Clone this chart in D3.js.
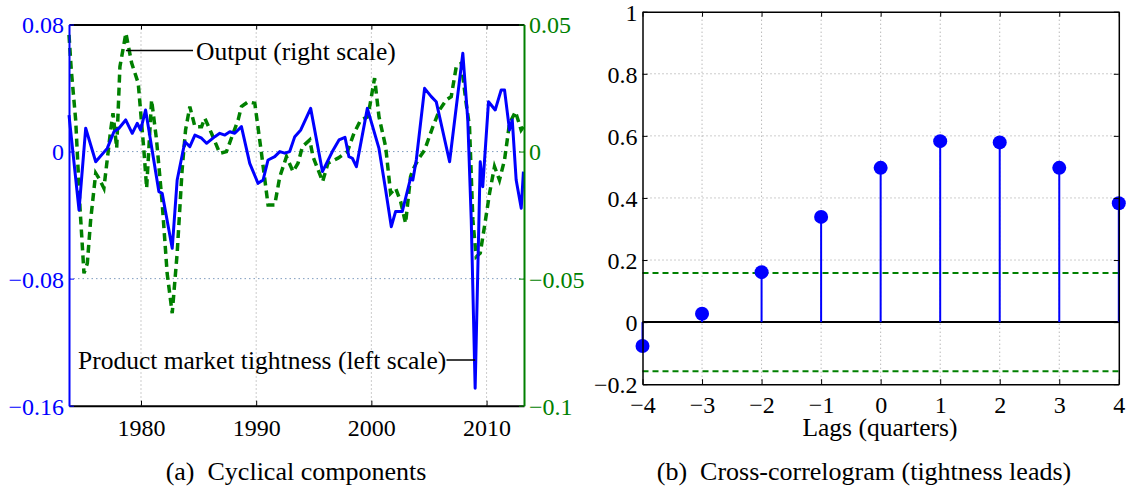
<!DOCTYPE html>
<html>
<head>
<meta charset="utf-8">
<script src="https://cdn.jsdelivr.net/npm/d3@7"></script>
<style>
body { margin: 0; background: #fff; }
svg { display: block; font-family: "Liberation Serif", "Times New Roman", serif; }
</style>
</head>
<body>
<svg class="chart"></svg>
<script>
// left panel: cyclical components
var tightYears = [1973.75,1974.62,1975.2,1976.07,1977.07,1977.65,1978.09,1978.67,1979.24,1979.67,1979.97,1980.4,
  1981.55,1981.84,1982.71,1983.14,1983.81,1984.24,1984.68,1985.26,1985.69,1986.41,1986.84,1987.28,1987.71,1988.14,
  1988.72,1989.44,1990.16,1990.6,1991.03,1991.61,1992.05,1992.48,1992.91,1993.35,1993.87,1994.73,1995.75,1996.61,
  1997.19,1997.71,1998.05,1998.35,1998.7,1999.65,2000.66,2001.24,2001.73,2002.1,2002.68,2003.4,2003.6,2003.9,
  2004.62,2005.2,2005.63,2006.79,2007.94,2008.37,2008.67,2009.01,2009.45,2009.67,2010.17,2010.75,2011.27,2011.56,
  2011.99,2012.23,2012.57,2013.01,2013.2];
var tightValues = [0.023,-0.0368,0.0147,-0.0064,0.002,0.0125,0.0147,0.0199,0.0115,0.0178,0.0136,0.0262,
  -0.0252,-0.0263,-0.0609,-0.0179,0.0062,0.0031,0.0104,0.0084,0.0052,0.0094,0.0115,0.0104,0.0125,0.0115,
  0.0157,-0.0074,-0.02,-0.0179,-0.0053,-0.0032,0,-0.001,0,0.0094,0.0136,0.0272,-0.0126,0,
  0.0073,0.009,-0.0032,-0.0042,-0.0095,0.0272,0.002,-0.0242,-0.0473,-0.0378,-0.0378,-0.0168,-0.0179,-0.0053,
  0.0398,0.0346,0.0314,-0.0064,0.0619,0.0199,-0.043,-0.149,-0.0064,-0.0221,0.0314,0.0262,0.0388,0.0388,
  0.0136,0.0199,-0.0179,-0.0357,-0.0126];

var outputYears = [1973.75,1973.95,1974.33,1974.7,1975.05,1975.34,1975.63,1976.07,1976.35,1976.78,1977.37,1977.57,
  1977.89,1978.17,1978.69,1979.19,1979.76,1980.25,1980.49,1980.92,1981.35,1981.84,1982.27,1982.71,1983.14,1983.57,
  1983.87,1984.24,1984.68,1985.26,1985.54,1986.12,1986.84,1987.42,1988.0,1988.43,1988.72,1989.3,1989.88,1990.46,
  1991.03,1991.61,1992.05,1992.63,1993.2,1993.63,1994.01,1994.65,1994.93,1995.77,1996.23,1997.1,1997.92,1998.49,
  1999.07,1999.7,2000.28,2000.66,2001.24,2001.67,2002.1,2002.54,2002.97,2003.4,2003.6,2004.04,2004.62,2005.34,
  2005.92,2006.5,2006.93,2007.37,2007.8,2008.23,2008.52,2008.81,2009.1,2009.45,2009.82,2010.26,2010.69,2011.12,
  2011.56,2011.99,2012.51,2013.0,2013.2];
var outputValues = [0.0459,0.032,0.0124,-0.0217,-0.0479,-0.044,-0.0269,-0.0085,-0.0105,-0.0144,0.0085,0.0151,
  0.0014,0.0334,0.0466,0.0348,0.0269,0.0006,-0.0144,0.0203,0.0046,-0.0203,-0.0479,-0.0636,-0.04,-0.0072,
  0.0085,0.0177,0.0098,0.0098,0.0131,0.0072,-0.0007,0,0.0072,0.0124,0.0177,0.0196,0.019,-0.0007,
  -0.021,-0.021,-0.0099,-0.002,-0.0079,-0.0046,0.0019,0.0046,-0.002,-0.0118,-0.0046,-0.0026,0,0.0072,
  0.0124,0.0137,0.0289,0.0137,0.0019,-0.0164,-0.0144,-0.0197,-0.0282,-0.0099,-0.0072,-0.0033,0.0006,0.0098,
  0.0164,0.0203,0.0216,0.0334,0.0347,0.019,0.0098,-0.0269,-0.0414,-0.04,-0.0295,-0.0164,-0.0059,-0.0112,
  -0.0033,0.0111,0.0157,0.0085,0.0098];

var yearTicks = [1980, 1990, 2000, 2010];
var leftTicks = [0.08, 0, -0.08, -0.16];
var leftTickLabels = ["0.08", "0", "\u22120.08", "\u22120.16"];
var rightTicks = [0.05, 0, -0.05, -0.1];
var rightTickLabels = ["0.05", "0", "\u22120.05", "\u22120.1"];

// right panel: cross-correlogram
var lags = [-4, -3, -2, -1, 0, 1, 2, 3, 4];
var lagLabels = ["\u22124", "\u22123", "\u22122", "\u22121", "0", "1", "2", "3", "4"];
var xcorr = [-0.077, 0.027, 0.161, 0.339, 0.497, 0.583, 0.579, 0.497, 0.383];
var bands = [0.158, -0.158];
var corrTicks = [-0.2, 0, 0.2, 0.4, 0.6, 0.8, 1];
var corrTickLabels = ["\u22120.2", "0", "0.2", "0.4", "0.6", "0.8", "1"];

var width = 1127, height = 486;
var blue = "#0000ff", green = "#008000";
var serif = "Liberation Serif, Times New Roman, serif";

var chart = d3.select(".chart").attr("width", width).attr("height", height);

// ---------- panel (a) ----------
var x = d3.scaleLinear().domain([1973.75, 2013.25]).range([69, 524]);
var yL = d3.scaleLinear().domain([-0.16, 0.08]).range([405.7, 24.5]);
var yR = d3.scaleLinear().domain([-0.1, 0.05]).range([405.7, 24.5]);

var a = chart.append("g");

// grid
a.selectAll(".vg").data(yearTicks).enter().append("line")
  .attr("x1", d => x(d)).attr("x2", d => x(d))
  .attr("y1", yL.range()[1]).attr("y2", yL.range()[0])
  .attr("stroke", "#999").attr("stroke-width", 1).attr("stroke-dasharray", "1,3");
a.selectAll(".hg").data([0, -0.08]).enter().append("line")
  .attr("x1", x.range()[0]).attr("x2", x.range()[1])
  .attr("y1", d => yL(d)).attr("y2", d => yL(d))
  .attr("stroke", "#7f9cbf").attr("stroke-width", 1).attr("stroke-dasharray", "1.5,3");

// series
var outLine = d3.line().x(d => x(d[0])).y(d => yR(d[1]));
var tightLine = d3.line().x(d => x(d[0])).y(d => yL(d[1]));

a.append("path")
  .datum(d3.zip(outputYears, outputValues))
  .attr("d", outLine)
  .attr("fill", "none").attr("stroke", green).attr("stroke-width", 3.5)
  .attr("stroke-dasharray", "8,5");

a.append("path")
  .datum(d3.zip(tightYears, tightValues))
  .attr("d", tightLine)
  .attr("fill", "none").attr("stroke", blue).attr("stroke-width", 3)
  .attr("stroke-linejoin", "round");

// axes
var bottomAxis = a.append("g").attr("transform", "translate(0," + yL.range()[0] + ")")
  .call(d3.axisBottom(x).tickValues(yearTicks).tickSizeInner(-5).tickSizeOuter(0).tickFormat(d3.format("d")));
var topAxis = a.append("g").attr("transform", "translate(0," + yL.range()[1] + ")")
  .call(d3.axisTop(x).tickValues(yearTicks).tickSizeInner(-5).tickSizeOuter(0).tickFormat(""));
var leftAxis = a.append("g").attr("transform", "translate(" + x.range()[0] + ",0)")
  .call(d3.axisLeft(yL).tickValues(leftTicks).tickSizeInner(-5).tickSizeOuter(0).tickPadding(5)
    .tickFormat((d, i) => leftTickLabels[i]));
var rightAxis = a.append("g").attr("transform", "translate(" + x.range()[1] + ",0)")
  .call(d3.axisRight(yR).tickValues(rightTicks).tickSizeInner(-5).tickSizeOuter(0).tickPadding(5)
    .tickFormat((d, i) => rightTickLabels[i]));

bottomAxis.attr("color", "#000");
topAxis.attr("color", "#000");
leftAxis.attr("color", blue);
rightAxis.attr("color", green);
[bottomAxis, topAxis, leftAxis, rightAxis].forEach(g => {
  g.attr("font-family", serif).attr("font-size", 24);
  g.selectAll("text").style("font-family", serif);
  g.select(".domain").attr("stroke-width", 2);
  g.selectAll(".tick line").attr("stroke-width", 1);
});
bottomAxis.selectAll("text").attr("y", 30).attr("dy", null);
leftAxis.selectAll("text").attr("dy", "0.35em");
rightAxis.selectAll("text").attr("dy", "0.35em");

// annotations
a.append("line").attr("x1", x(1978.69)).attr("x2", 193).attr("y1", 50.5).attr("y2", 50.5)
  .attr("stroke", "#000").attr("stroke-width", 1.5);
a.append("text").attr("x", 196).attr("y", 60).attr("font-size", 25.5).text("Output (right scale)");
a.append("line").attr("x1", 446.5).attr("x2", x(2009.01)).attr("y1", 360).attr("y2", 360)
  .attr("stroke", "#000").attr("stroke-width", 1.5);
a.append("text").attr("x", 78).attr("y", 368.5).attr("font-size", 25.5).text("Product market tightness (left scale)");

a.append("text").attr("x", 296).attr("y", 480).attr("text-anchor", "middle").attr("font-size", 26)
  .attr("xml:space", "preserve").text("(a)  Cyclical components");

// ---------- panel (b) ----------
var xb = d3.scaleLinear().domain([-4, 4]).range([642.5, 1118.8]);
var yb = d3.scaleLinear().domain([-0.2, 1]).range([384.2, 11.7]);

var b = chart.append("g");

b.selectAll(".vg").data(lags.slice(1, -1)).enter().append("line")
  .attr("x1", d => xb(d)).attr("x2", d => xb(d))
  .attr("y1", yb.range()[1]).attr("y2", yb.range()[0])
  .attr("stroke", "#999").attr("stroke-width", 1).attr("stroke-dasharray", "1,3");
b.selectAll(".hg").data([0.2, 0.4, 0.6, 0.8]).enter().append("line")
  .attr("x1", xb.range()[0]).attr("x2", xb.range()[1])
  .attr("y1", d => yb(d)).attr("y2", d => yb(d))
  .attr("stroke", "#999").attr("stroke-width", 1).attr("stroke-dasharray", "1,3");

b.selectAll(".band").data(bands).enter().append("line")
  .attr("x1", xb.range()[0]).attr("x2", xb.range()[1])
  .attr("y1", d => yb(d)).attr("y2", d => yb(d))
  .attr("stroke", green).attr("stroke-width", 2).attr("stroke-dasharray", "6,4");

b.append("line").attr("x1", xb.range()[0]).attr("x2", xb.range()[1])
  .attr("y1", yb(0)).attr("y2", yb(0)).attr("stroke", "#000").attr("stroke-width", 2);

b.selectAll(".stem").data(lags).enter().append("line")
  .attr("x1", d => xb(d)).attr("x2", d => xb(d))
  .attr("y1", yb(0)).attr("y2", (d, i) => yb(xcorr[i]))
  .attr("stroke", blue).attr("stroke-width", 2);
b.selectAll(".dot").data(lags).enter().append("circle")
  .attr("cx", d => xb(d)).attr("cy", (d, i) => yb(xcorr[i])).attr("r", 7)
  .attr("fill", blue);

var bb = b.append("g").attr("transform", "translate(0," + yb.range()[0] + ")")
  .call(d3.axisBottom(xb).tickValues(lags).tickSizeInner(-5).tickSizeOuter(0).tickFormat((d, i) => lagLabels[i]));
var bt = b.append("g").attr("transform", "translate(0," + yb.range()[1] + ")")
  .call(d3.axisTop(xb).tickValues(lags).tickSizeInner(-5).tickSizeOuter(0).tickFormat(""));
var bl = b.append("g").attr("transform", "translate(" + xb.range()[0] + ",0)")
  .call(d3.axisLeft(yb).tickValues(corrTicks).tickSizeInner(-5).tickSizeOuter(0).tickPadding(5)
    .tickFormat((d, i) => corrTickLabels[i]));
var br = b.append("g").attr("transform", "translate(" + xb.range()[1] + ",0)")
  .call(d3.axisRight(yb).tickValues(corrTicks).tickSizeInner(-5).tickSizeOuter(0).tickFormat(""));
[bb, bt, bl, br].forEach(g => {
  g.attr("color", "#000").attr("font-family", serif).attr("font-size", 24);
  g.selectAll("text").style("font-family", serif);
  g.select(".domain").attr("stroke-width", 1.5);
});
bb.selectAll("text").attr("y", 29).attr("dy", null);
bl.selectAll("text").attr("dy", "0.35em");

b.append("text").attr("x", 880).attr("y", 436).attr("text-anchor", "middle").attr("font-size", 25.5)
  .text("Lags (quarters)");
b.append("text").attr("x", 864).attr("y", 480).attr("text-anchor", "middle").attr("font-size", 26)
  .attr("xml:space", "preserve").text("(b)  Cross-correlogram (tightness leads)");
</script>
</body>
</html>
